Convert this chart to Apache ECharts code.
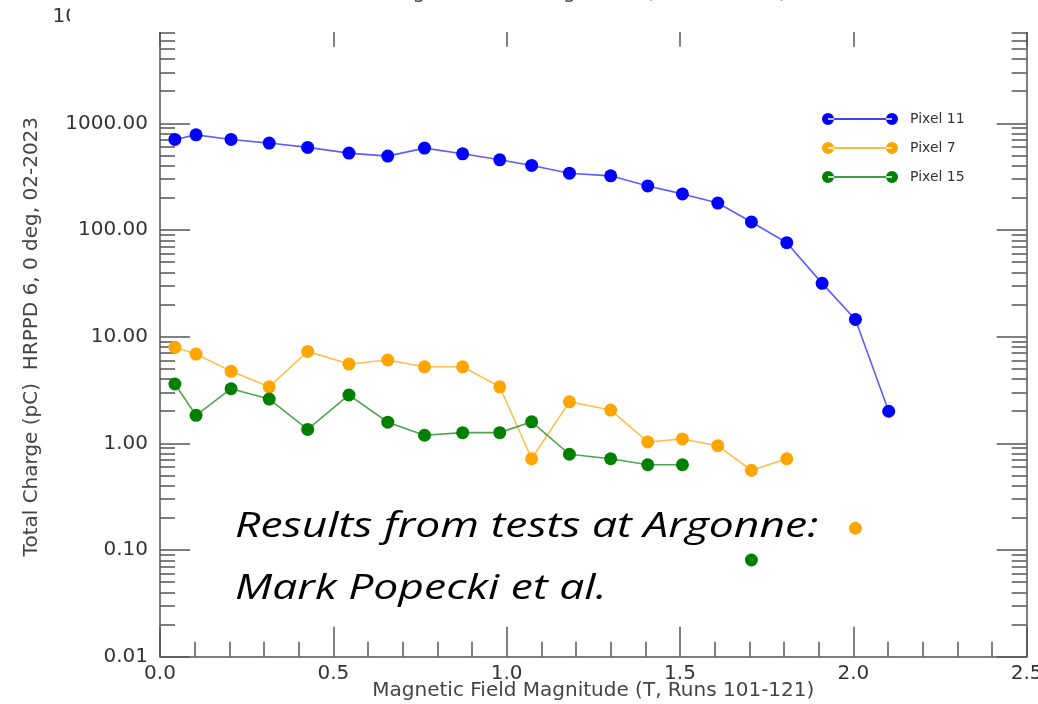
<!DOCTYPE html>
<html>
<head>
<meta charset="utf-8">
<title>HRPPD 6 total charge vs magnetic field</title>
<script src="https://cdn.jsdelivr.net/npm/echarts@6/dist/echarts.min.js"></script>
<style>
  html, body { margin: 0; padding: 0; background: #fff; }
  #chart { width: 1038px; height: 704px; }
</style>
</head>
<body>
<div id="chart"></div>
<script>
// Magnetic field magnitude (T) for runs 101-121
const fieldT = [0.043, 0.104, 0.205, 0.315, 0.426, 0.545, 0.657, 0.763, 0.873, 0.980,
                1.072, 1.181, 1.300, 1.407, 1.507, 1.609, 1.706, 1.808, 1.910, 2.006, 2.102];

// Total charge (pC) per pixel; null = no point for that run
const pixel11 = [706, 780, 706, 653, 595, 526, 493, 586, 518, 455,
                 403, 341, 322, 259, 218, 179, 119, 76, 31.6, 14.5, 2.0];
const pixel7  = [7.94, 6.87, 4.73, 3.39, 7.28, 5.54, 6.04, 5.22, 5.22, 3.39,
                 0.717, 2.45, 2.05, 1.03, 1.10, 0.95, 0.558, 0.717, null, 0.160, null];
const pixel15 = [3.60, 1.83, 3.25, 2.60, 1.35, 2.84, 1.58, 1.19, 1.26, 1.26,
                 1.59, 0.79, 0.717, 0.63, 0.63, null, 0.0806, null, null, null, null];

// Axis tick values
const decadeTicks = [0.01, 0.1, 1, 10, 100, 1000, 10000];
const minorMultipliers = [2, 3, 4, 5, 6, 7, 8, 9];
const minorTicks = [];
decadeTicks.slice(0, -1).forEach(d => minorMultipliers.forEach(m => minorTicks.push(+(d * m).toPrecision(3))));

const axisGray = '#555';
const labelGray = '#333';
const fontFam = 'DejaVu Sans';
const axisFontSize = 20;

function toPairs(values) {
  return fieldT.map((x, i) => [x, values[i] == null ? '-' : values[i]]);
}

const legendIcon = 'path://M0,6a6,6 0 1,0 12,0a6,6 0 1,0 -12,0Z M6,5.25h64v1.5h-64Z M64,6a6,6 0 1,0 12,0a6,6 0 1,0 -12,0Z';

function logAxis(position, isMajor, showLine, withLabels, name) {
  return {
    type: 'log',
    logBase: 10,
    min: 0.01,
    max: 10000,
    position: position,
    name: name || '',
    nameLocation: 'middle',
    nameGap: 118,
    nameTextStyle: { fontFamily: fontFam, fontSize: axisFontSize, color: '#444' },
    axisLine: { show: showLine, onZero: false, lineStyle: { color: axisGray, width: 1.5 } },
    axisTick: {
      show: true, inside: true, length: isMajor ? 30 : 15,
      customValues: isMajor ? decadeTicks : minorTicks,
      lineStyle: { color: axisGray, width: 1.5 }
    },
    axisLabel: withLabels ? {
      show: true, customValues: decadeTicks, margin: 12,
      fontFamily: fontFam, fontSize: axisFontSize, color: labelGray,
      formatter: v => Number(v).toFixed(2)
    } : { show: false },
    splitLine: { show: false },
    minorTick: { show: false }
  };
}

function fieldAxis(position, withLabels) {
  return {
    type: 'value',
    min: 0, max: 2.5, interval: 0.5,
    position: position,
    name: withLabels ? 'Magnetic Field Magnitude (T, Runs 101-121)' : '',
    nameLocation: 'middle',
    nameGap: 24,
    nameMoveOverlap: false,
    nameTextStyle: { fontFamily: fontFam, fontSize: axisFontSize, color: '#444' },
    axisLine: { show: true, onZero: false, lineStyle: { color: axisGray, width: 1.5 } },
    axisTick: { show: true, inside: true, length: 30, lineStyle: { color: axisGray, width: 1.5 } },
    minorTick: { show: true, splitNumber: 5, length: 15, lineStyle: { color: axisGray, width: 1.5 } },
    axisLabel: withLabels ? {
      show: true, margin: 7, fontFamily: fontFam, fontSize: axisFontSize, color: labelGray,
      formatter: v => v.toFixed(1)
    } : { show: false },
    splitLine: { show: false }
  };
}

function pixelSeries(name, values, color, lineColor) {
  return {
    name: name,
    type: 'line',
    xAxisIndex: 0,
    yAxisIndex: 0,
    data: toPairs(values),
    symbol: 'circle',
    symbolSize: 13,
    showSymbol: true,
    connectNulls: false,
    itemStyle: { color: color },
    lineStyle: { color: lineColor, width: 1.6 },
    emphasis: { disabled: true },
    animation: false
  };
}

// Italic note drawn as wide text, stretched horizontally
const noteStyle = { fontFamily: 'Open Sans', fontStyle: 'italic', fontSize: 35, fill: '#000',
                    align: 'left', verticalAlign: 'middle' };
const noteScaleX = 1.27;

const chart = echarts.init(document.getElementById('chart'), null, { renderer: 'canvas' });

chart.setOption({
  backgroundColor: '#fff',
  animation: false,
  grid: { left: 160, top: 16.67, width: 866.67, height: 640, containLabel: false, outerBoundsMode: 'none' },
  xAxis: [fieldAxis('bottom', true), fieldAxis('top', false)],
  yAxis: [
    logAxis('left', true, true, true, 'Total Charge (pC)  HRPPD 6, 0 deg, 02-2023'),
    logAxis('left', false, false, false),
    logAxis('right', true, true, false),
    logAxis('right', false, false, false)
  ],
  legend: {
    orient: 'vertical',
    left: 817,
    top: 107,
    itemWidth: 76,
    itemHeight: 12,
    itemGap: 15,
    icon: legendIcon,
    textStyle: { fontFamily: fontFam, fontSize: 14, color: '#333', padding: [0, 0, 0, 7] },
    data: ['Pixel 11', 'Pixel 7', 'Pixel 15']
  },
  series: [
    pixelSeries('Pixel 11', pixel11, '#0000ff', '#5c5cff'),
    pixelSeries('Pixel 7', pixel7, '#ffa500', '#ffbe4d'),
    pixelSeries('Pixel 15', pixel15, '#008000', '#4da64d')
  ],
  graphic: [
    { type: 'rect', z: 100, shape: { x: 70, y: 0, width: 968, height: 32 }, style: { fill: '#fff' } },
    { type: 'text', z: 101, x: 585, y: 3,
      style: { text: 'Magnetic Field Magnitude (T, Runs 5-16)', fontFamily: fontFam, fontSize: axisFontSize,
               fill: '#444', align: 'center', verticalAlign: 'bottom' } },
    { type: 'text', z: 101, x: 235, y: 527, scaleX: noteScaleX,
      style: Object.assign({ text: 'Results from tests at Argonne:' }, noteStyle) },
    { type: 'text', z: 101, x: 235, y: 589, scaleX: noteScaleX,
      style: Object.assign({ text: 'Mark Popecki et al.' }, noteStyle) }
  ]
});
</script>
</body>
</html>
